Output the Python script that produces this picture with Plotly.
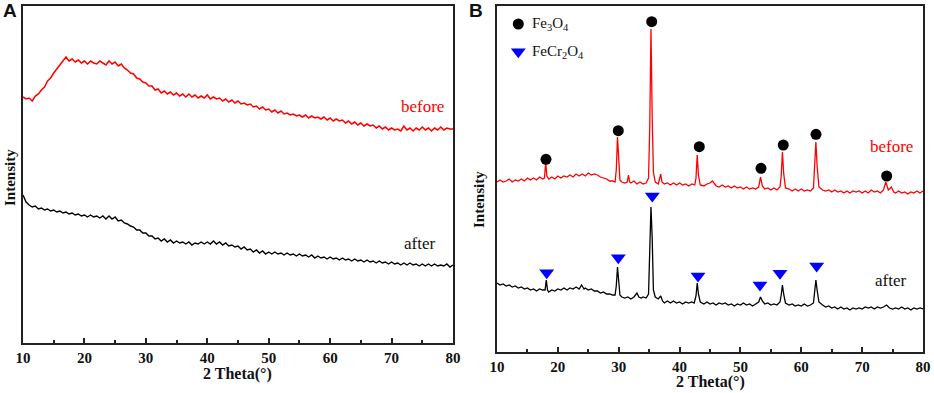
import plotly.graph_objects as go

# ---------------- Panel A data (2θ, relative intensity) ----------------
a_before = [
    (10.0, 246), (10.5, 244), (11.0, 245), (11.5, 242), (12.0, 247), (12.5, 249), (13.0, 253), (13.5, 256),
    (14.0, 262), (14.5, 265), (15.0, 270), (15.5, 274), (16.0, 279), (16.5, 283), (17.0, 286), (17.5, 282),
    (18.0, 284), (18.5, 281), (19.0, 283), (19.5, 280), (20.0, 282), (20.5, 279), (21.0, 282), (21.5, 280),
    (22.0, 279), (22.5, 282), (23.0, 280), (23.5, 278), (24.0, 282), (24.5, 279), (25.0, 281), (25.5, 277),
    (26.0, 279), (26.5, 275), (27.0, 273), (27.5, 270), (28.0, 269), (28.5, 265), (29.0, 264), (29.5, 261),
    (30.0, 260), (30.5, 257), (31.0, 257), (31.5, 253), (32.0, 254), (32.5, 250), (33.0, 252), (33.5, 249),
    (34.0, 251), (34.5, 248), (35.0, 250), (35.5, 247), (36.0, 249), (36.5, 246), (37.0, 249), (37.5, 246),
    (38.0, 248), (38.5, 245), (39.0, 247), (39.5, 245), (40.0, 248), (40.5, 244), (41.0, 246), (41.5, 244),
    (42.0, 245), (42.5, 242), (43.0, 244), (43.5, 241), (44.0, 243), (44.5, 240), (45.0, 242), (45.5, 239),
    (46.0, 240), (46.5, 238), (47.0, 239), (47.5, 236), (48.0, 237), (48.5, 234), (49.0, 236), (49.5, 233),
    (50.0, 234), (50.5, 231), (51.0, 233), (51.5, 230), (52.0, 232), (52.5, 229), (53.0, 230), (53.5, 228),
    (54.0, 229), (54.5, 227), (55.0, 228), (55.5, 226), (56.0, 228), (56.5, 225), (57.0, 227), (57.5, 225),
    (58.0, 226), (58.5, 224), (59.0, 226), (59.5, 223), (60.0, 225), (60.5, 222), (61.0, 224), (61.5, 222),
    (62.0, 223), (62.5, 220), (63.0, 222), (63.5, 219), (64.0, 221), (64.5, 218), (65.0, 220), (65.5, 217),
    (66.0, 219), (66.5, 217), (67.0, 218), (67.5, 215), (68.0, 217), (68.5, 214), (69.0, 216), (69.5, 213),
    (70.0, 215), (70.5, 213), (71.0, 214), (71.5, 212), (72.0, 217), (72.5, 213), (73.0, 215), (73.5, 212),
    (74.0, 215), (74.5, 213), (75.0, 216), (75.5, 213), (76.0, 215), (76.5, 212), (77.0, 215), (77.5, 213),
    (78.0, 216), (78.5, 213), (79.0, 215), (79.5, 214), (80.0, 214),
]

a_after = [
    (10.0, 148), (10.5, 141), (11.0, 138), (11.5, 136), (12.0, 137), (12.5, 134), (13.0, 135), (13.5, 133),
    (14.0, 134), (14.5, 132), (15.0, 133), (15.5, 131), (16.0, 132), (16.5, 130), (17.0, 131), (17.5, 129),
    (18.0, 130), (18.5, 128), (19.0, 129), (19.5, 127), (20.0, 128), (20.5, 126), (21.0, 128), (21.5, 126),
    (22.0, 127), (22.5, 125), (23.0, 127), (23.5, 124), (24.0, 127), (24.5, 124), (25.0, 126), (25.5, 122),
    (26.0, 123), (26.5, 120), (27.0, 119), (27.5, 117), (28.0, 116), (28.5, 113), (29.0, 113), (29.5, 110),
    (30.0, 110), (30.5, 107), (31.0, 107), (31.5, 104), (32.0, 105), (32.5, 102), (33.0, 104), (33.5, 101),
    (34.0, 103), (34.5, 100), (35.0, 102), (35.5, 100), (36.0, 101), (36.5, 99), (37.0, 101), (37.5, 98),
    (38.0, 100), (38.5, 99), (39.0, 101), (39.5, 99), (40.0, 101), (40.5, 99), (41.0, 102), (41.5, 99),
    (42.0, 101), (42.5, 98), (43.0, 100), (43.5, 97), (44.0, 98), (44.5, 96), (45.0, 97), (45.5, 94),
    (46.0, 96), (46.5, 93), (47.0, 94), (47.5, 91), (48.0, 93), (48.5, 90), (49.0, 92), (49.5, 89),
    (50.0, 91), (50.5, 89), (51.0, 91), (51.5, 89), (52.0, 90), (52.5, 88), (53.0, 90), (53.5, 88),
    (54.0, 89), (54.5, 87), (55.0, 89), (55.5, 87), (56.0, 88), (56.5, 86), (57.0, 88), (57.5, 85),
    (58.0, 87), (58.5, 85), (59.0, 86), (59.5, 84), (60.0, 86), (60.5, 84), (61.0, 85), (61.5, 83),
    (62.0, 85), (62.5, 83), (63.0, 84), (63.5, 82), (64.0, 84), (64.5, 82), (65.0, 83), (65.5, 81),
    (66.0, 83), (66.5, 81), (67.0, 82), (67.5, 80), (68.0, 82), (68.5, 80), (69.0, 81), (69.5, 79),
    (70.0, 81), (70.5, 79), (71.0, 80), (71.5, 78), (72.0, 80), (72.5, 78), (73.0, 80), (73.5, 78),
    (74.0, 79), (74.5, 77), (75.0, 79), (75.5, 77), (76.0, 79), (76.5, 77), (77.0, 79), (77.5, 77),
    (78.0, 78), (78.5, 77), (79.0, 79), (79.5, 76), (80.0, 78),
]

# ---------------- Panel B data ----------------
b_before = [
    (10.0, 170), (10.5, 172), (11.0, 170), (11.5, 171), (12.0, 173), (12.5, 170), (13.0, 172), (13.5, 171),
    (14.0, 173), (14.5, 171), (15.0, 174), (15.5, 172), (16.0, 174), (16.5, 172), (17.0, 175), (17.5, 173),
    (17.8, 174), (18.0, 189), (18.2, 176), (18.5, 173), (19.0, 175), (19.5, 173), (20.0, 176), (20.5, 174),
    (21.0, 176), (21.5, 175), (22.0, 177), (22.5, 175), (23.0, 178), (23.5, 176), (24.0, 178), (24.5, 176),
    (25.0, 179), (25.5, 177), (26.0, 178), (26.5, 177), (27.0, 175), (27.5, 174), (28.0, 173), (28.5, 171),
    (29.0, 171), (29.4, 170), (29.6, 182), (29.8, 215), (30.0, 186), (30.2, 172), (30.5, 170), (31.0, 169),
    (31.4, 170), (31.6, 177), (31.8, 170), (32.0, 169), (32.5, 171), (33.0, 168), (33.5, 170), (34.0, 168),
    (34.5, 169), (34.9, 174), (35.1, 225), (35.3, 323), (35.5, 235), (35.7, 180), (36.0, 170), (36.5, 168),
    (36.9, 178), (37.1, 170), (37.5, 168), (38.0, 169), (38.5, 167), (39.0, 169), (39.5, 167), (40.0, 169),
    (40.5, 167), (41.0, 168), (41.5, 166), (42.0, 168), (42.5, 167), (42.7, 174), (42.9, 197), (43.1, 177),
    (43.4, 167), (44.0, 166), (44.5, 168), (45.0, 169), (45.4, 171), (45.8, 167), (46.0, 166), (46.5, 165),
    (47.0, 167), (47.5, 165), (48.0, 166), (48.5, 164), (49.0, 166), (49.5, 164), (50.0, 165), (50.5, 163),
    (51.0, 165), (51.5, 163), (52.0, 164), (52.5, 163), (53.0, 165), (53.3, 175), (53.6, 166), (54.0, 163),
    (54.5, 164), (55.0, 162), (55.5, 164), (56.0, 162), (56.5, 165), (56.7, 176), (56.9, 200), (57.1, 179),
    (57.4, 164), (58.0, 163), (58.5, 161), (59.0, 163), (59.5, 161), (60.0, 163), (60.5, 161), (61.0, 162),
    (61.5, 161), (62.0, 164), (62.2, 182), (62.4, 210), (62.6, 186), (62.9, 165), (63.5, 162), (64.0, 161),
    (64.5, 162), (65.0, 160), (65.5, 162), (66.0, 160), (66.5, 161), (67.0, 159), (67.5, 161), (68.0, 159),
    (68.5, 161), (69.0, 160), (69.5, 161), (70.0, 159), (70.5, 161), (71.0, 159), (71.5, 162), (72.0, 160),
    (72.5, 161), (73.0, 159), (73.5, 162), (73.9, 170), (74.3, 162), (74.8, 165), (75.2, 160), (75.5, 159),
    (76.0, 161), (76.5, 159), (77.0, 160), (77.5, 158), (78.0, 160), (78.5, 159), (79.0, 161), (79.5, 159),
    (80.0, 161),
]

b_after = [
    (10.0, 69), (10.5, 67), (11.0, 68), (11.5, 66), (12.0, 67), (12.5, 65), (13.0, 66), (13.5, 64),
    (14.0, 65), (14.5, 63), (15.0, 64), (15.5, 62), (16.0, 63), (16.5, 61), (17.0, 63), (17.5, 62),
    (17.9, 62), (18.1, 72), (18.3, 62), (18.5, 60), (19.0, 62), (19.5, 61), (20.0, 63), (20.5, 62),
    (21.0, 64), (21.5, 62), (22.0, 64), (22.5, 63), (23.0, 65), (23.5, 63), (23.9, 67), (24.3, 63),
    (24.5, 64), (25.0, 62), (25.5, 63), (26.0, 61), (26.5, 61), (27.0, 59), (27.5, 60), (28.0, 58),
    (28.5, 58), (29.0, 57), (29.4, 57), (29.6, 66), (29.8, 85), (30.0, 69), (30.2, 57), (30.5, 55),
    (31.0, 54), (31.5, 55), (32.0, 53), (32.5, 55), (33.0, 59), (33.3, 55), (33.7, 54), (34.0, 55),
    (34.5, 54), (34.9, 58), (35.1, 110), (35.3, 145), (35.5, 114), (35.7, 62), (36.0, 55), (36.5, 53),
    (36.9, 56), (37.2, 51), (37.5, 49), (38.0, 51), (38.5, 49), (39.0, 51), (39.5, 49), (40.0, 50),
    (40.5, 48), (41.0, 50), (41.5, 49), (42.0, 50), (42.4, 49), (42.7, 56), (42.9, 69), (43.1, 58),
    (43.4, 50), (44.0, 48), (44.5, 50), (45.0, 48), (45.5, 49), (46.0, 47), (46.5, 49), (47.0, 48),
    (47.5, 49), (48.0, 47), (48.5, 48), (49.0, 46), (49.5, 48), (50.0, 47), (50.5, 49), (51.0, 47),
    (51.5, 48), (52.0, 46), (52.5, 48), (53.0, 50), (53.3, 55), (53.6, 51), (54.0, 48), (54.5, 49),
    (55.0, 47), (55.5, 48), (56.0, 47), (56.5, 50), (56.7, 57), (56.9, 67), (57.1, 58), (57.4, 49),
    (58.0, 47), (58.5, 48), (59.0, 46), (59.5, 47), (60.0, 46), (60.5, 48), (61.0, 46), (61.5, 47),
    (62.0, 49), (62.2, 60), (62.4, 72), (62.6, 62), (62.9, 50), (63.5, 47), (64.0, 45), (64.5, 46),
    (65.0, 44), (65.5, 45), (66.0, 43), (66.5, 45), (67.0, 43), (67.5, 44), (68.0, 42), (68.5, 44),
    (69.0, 43), (69.5, 44), (70.0, 43), (70.5, 45), (71.0, 44), (71.5, 45), (72.0, 43), (72.5, 45),
    (73.0, 44), (73.5, 45), (74.0, 47), (74.5, 44), (75.0, 43), (75.5, 44), (76.0, 43), (76.5, 45),
    (77.0, 43), (77.5, 44), (78.0, 42), (78.5, 44), (79.0, 43), (79.5, 44), (80.0, 43),
]

# phase markers (2θ, position above pattern)
fe3o4_x = [18.05, 29.93, 35.42, 43.24, 53.38, 57.04, 62.42, 74.03]
fe3o4_y = [192.7, 221.3, 330.3, 205.3, 183.7, 207.0, 217.7, 176.0]
fecr2o4_x = [18.17, 29.93, 35.52, 43.03, 53.21, 56.50, 62.53]
fecr2o4_y = [79.3, 94.3, 156.0, 76.0, 67.0, 78.7, 86.0]

legend_labels = ["Fe<sub>3</sub>O<sub>4</sub>", "FeCr<sub>2</sub>O<sub>4</sub>"]
x_ticks = [10, 20, 30, 40, 50, 60, 70, 80]

RED = "#ff0000"
BLACK = "#000000"
BLUE = "#0000ff"
SERIF = "Liberation Serif"

fig = go.Figure()

def add_line(data, color, xa, ya, width):
    fig.add_trace(go.Scatter(
        x=[p[0] for p in data], y=[p[1] for p in data], mode="lines",
        line=dict(color=color, width=width), xaxis=xa, yaxis=ya, showlegend=False,
        hoverinfo="skip"))

add_line(a_before, RED, "x", "y", 1.5)
add_line(a_after, BLACK, "x", "y", 1.4)
add_line(b_before, RED, "x2", "y2", 1.3)
add_line(b_after, BLACK, "x2", "y2", 1.3)

fig.add_trace(go.Scatter(x=fe3o4_x, y=fe3o4_y, mode="markers", xaxis="x2", yaxis="y2",
                         marker=dict(symbol="circle", size=11, color=BLACK), showlegend=False))
fig.add_trace(go.Scatter(x=fecr2o4_x, y=fecr2o4_y, mode="markers", xaxis="x2", yaxis="y2",
                         marker=dict(symbol="triangle-down", size=13, color=BLUE), showlegend=False))
# in-plot legend symbols
fig.add_trace(go.Scatter(x=[13.5], y=[328], mode="markers", xaxis="x2", yaxis="y2",
                         marker=dict(symbol="circle", size=11, color=BLACK), showlegend=False))
fig.add_trace(go.Scatter(x=[13.5], y=[300.3], mode="markers", xaxis="x2", yaxis="y2",
                         marker=dict(symbol="triangle-down", size=13, color=BLUE), showlegend=False))

W, H = 934, 393

def xaxis_style(domain, anchor):
    return dict(domain=domain, anchor=anchor, range=[10, 80], tickmode="array", tickvals=x_ticks,
                ticktext=[str(t) for t in x_ticks], automargin=False,
                showline=True, linecolor="#222", linewidth=1.5, mirror=True,
                ticks="inside", ticklen=5, tickwidth=1.5, tickcolor="#222",
                minor=dict(ticks="inside", ticklen=3, tickwidth=1.5, tickcolor="#222",
                           tickvals=[15, 25, 35, 45, 55, 65, 75]),
                showgrid=False, zeroline=False,
                tickfont=dict(family=SERIF, size=15, color="#111", weight="bold"))

def yaxis_style(domain, anchor, top):
    return dict(domain=domain, anchor=anchor, range=[0, top], showline=True, linecolor="#222",
                linewidth=1.5, mirror=True, ticks="", showticklabels=False, automargin=False,
                showgrid=False, zeroline=False)

fig.update_layout(
    template="none",
    width=W, height=H, margin=dict(l=0, r=0, t=0, b=0, pad=0), autosize=False,
    paper_bgcolor="white", plot_bgcolor="white", showlegend=False,
    xaxis=xaxis_style([23 / W, 453 / W], "y"),
    yaxis=yaxis_style([(H - 343) / H, (H - 6) / H], "x", 337),
    xaxis2=xaxis_style([497 / W, 923 / W], "y2"),
    yaxis2=yaxis_style([(H - 352) / H, (H - 6) / H], "x2", 346),
)

ann = []

def paper_text(text, xc, yc, size, family, angle=0):
    ann.append(dict(text=text, x=xc / W, y=(H - yc) / H, xref="paper", yref="paper",
                    xanchor="center", yanchor="middle", textangle=angle, showarrow=False,
                    font=dict(family=family, size=size, color="#111")))

# panel letters
paper_text("<b>A</b>", 10, 11, 19, "Liberation Sans")
paper_text("<b>B</b>", 476, 11, 19, "Liberation Sans")
# axis titles
paper_text("<b>2 Theta(°)</b>", 238, 374, 16, SERIF)
paper_text("<b>2 Theta(°)</b>", 710, 381.7, 16, SERIF)
paper_text("<b>Intensity</b>", 10, 178, 15, SERIF, -90)
paper_text("<b>Intensity</b>", 479, 200, 15, SERIF, -90)

def data_text(text, x, y, xr, yr, color, size=17, anchor="center"):
    ann.append(dict(text=text, x=x, y=y, xref=xr, yref=yr, xanchor=anchor, yanchor="middle",
                    showarrow=False, font=dict(family=SERIF, size=size, color=color)))

# curve labels
data_text("before", 75.1, 237, "x", "y", RED)
data_text("after", 74.5, 100, "x", "y", "#111")
data_text("before", 74.9, 205.3, "x2", "y2", RED)
data_text("after", 74.6, 71.3, "x2", "y2", "#111")
# legend texts
for lab, yv in zip(legend_labels, [328, 300.3]):
    data_text(lab, 15.4, yv, "x2", "y2", "#111", size=15, anchor="left")

fig.update_layout(annotations=ann)
fig.write_html("out.html", config={"displayModeBar": False},
               post_script="document.body.style.margin='0';document.body.style.padding='0';"
                           "document.body.style.overflow='hidden';")
